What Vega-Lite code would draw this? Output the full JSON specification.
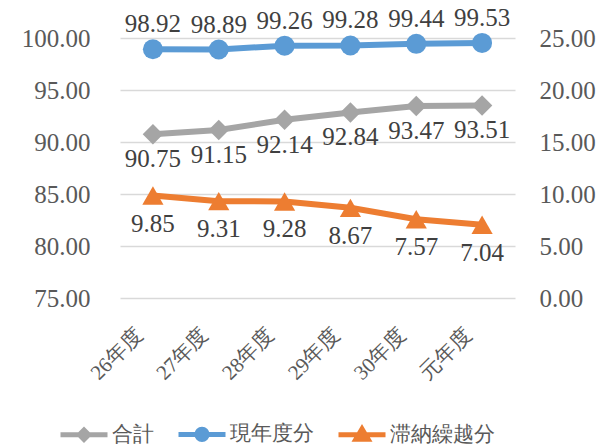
{
  "$schema": "https://vega.github.io/schema/vega-lite/v6.json",
  "width": 395,
  "height": 260,
  "autosize": "none",
  "padding": {"left": 120, "top": 38, "right": 86, "bottom": 148},
  "config": {
    "font": "Liberation Serif",
    "view": {"stroke": null},
    "text": {"font": "Liberation Serif"},
    "axis": {"labelFont": "Liberation Serif", "labelColor": "#595959", "title": null},
    "legend": {"labelFont": "Liberation Serif"}
  },
  "data": {
    "values": [
      {"year": "26年度", "series": "合計", "value": 90.75},
      {"year": "27年度", "series": "合計", "value": 91.15},
      {"year": "28年度", "series": "合計", "value": 92.14},
      {"year": "29年度", "series": "合計", "value": 92.84},
      {"year": "30年度", "series": "合計", "value": 93.47},
      {"year": "元年度", "series": "合計", "value": 93.51},
      {"year": "26年度", "series": "現年度分", "value": 98.92},
      {"year": "27年度", "series": "現年度分", "value": 98.89},
      {"year": "28年度", "series": "現年度分", "value": 99.26},
      {"year": "29年度", "series": "現年度分", "value": 99.28},
      {"year": "30年度", "series": "現年度分", "value": 99.44},
      {"year": "元年度", "series": "現年度分", "value": 99.53},
      {"year": "26年度", "series": "滞納繰越分", "value": 9.85},
      {"year": "27年度", "series": "滞納繰越分", "value": 9.31},
      {"year": "28年度", "series": "滞納繰越分", "value": 9.28},
      {"year": "29年度", "series": "滞納繰越分", "value": 8.67},
      {"year": "30年度", "series": "滞納繰越分", "value": 7.57},
      {"year": "元年度", "series": "滞納繰越分", "value": 7.04}
    ]
  },
  "encoding": {
    "x": {
      "field": "year", "type": "ordinal",
      "sort": ["26年度", "27年度", "28年度", "29年度", "30年度", "元年度"],
      "axis": {"labelAngle": -45, "labelFontSize": 21, "labelPadding": 26, "labelOffset": -22, "domain": false, "ticks": false, "grid": false}
    },
    "color": {
      "field": "series", "type": "nominal",
      "scale": {"domain": ["合計", "現年度分", "滞納繰越分"], "range": ["#A5A5A5", "#5B9BD5", "#ED7D31"]},
      "legend": {
        "title": null, "orient": "none", "legendX": -62, "legendY": 370, "direction": "horizontal",
        "symbolSize": 2209, "symbolStrokeWidth": 5, "labelFontSize": 21, "labelColor": "#595959",
        "labelOffset": 2, "columnPadding": 14,
        "encode": {
          "symbols": {
            "update": {
              "shape": {"signal": "datum.value === '合計' ? 'M-1,0L1,0M-0.2,0L0,-0.2L0.2,0L0,0.2Z' : datum.value === '現年度分' ? 'M-1,0L1,0M0.22,0A0.22,0.22 0 1,1 -0.22,0A0.22,0.22 0 1,1 0.22,0Z' : 'M-1,0L1,0M-0.26,0.2L0,-0.24L0.26,0.2Z'"},
              "fill": {"signal": "datum.value === '合計' ? '#A5A5A5' : datum.value === '現年度分' ? '#5B9BD5' : '#ED7D31'"},
              "stroke": {"signal": "datum.value === '合計' ? '#A5A5A5' : datum.value === '現年度分' ? '#5B9BD5' : '#ED7D31'"},
              "strokeWidth": {"value": 5},
              "opacity": {"value": 1}
            }
          }
        }
      }
    }
  },
  "layer": [
    {
      "transform": [{"filter": "datum.series !== '滞納繰越分'"}],
      "encoding": {
        "y": {
          "field": "value", "type": "quantitative",
          "scale": {"domain": [75, 100], "nice": false, "zero": false},
          "axis": {"values": [75, 80, 85, 90, 95, 100], "format": ".2f", "orient": "left", "labelFontSize": 25, "labelPadding": 30, "domain": false, "ticks": false, "grid": true, "gridColor": "#D9D9D9", "gridWidth": 1.5}
        }
      },
      "layer": [
        {"mark": {"type": "line", "strokeWidth": 6}},
        {"transform": [{"filter": "datum.series === '合計'"}], "mark": {"type": "point", "shape": "diamond", "filled": true, "size": 420, "opacity": 1}},
        {"transform": [{"filter": "datum.series === '現年度分'"}], "mark": {"type": "point", "shape": "circle", "filled": true, "size": 400, "opacity": 1}},
        {"transform": [{"filter": "datum.series === '合計'"}], "mark": {"type": "text", "dy": 25, "fontSize": 25, "font": "Liberation Serif", "baseline": "middle"}, "encoding": {"text": {"field": "value", "format": ".2f"}, "color": {"value": "#404040"}}},
        {"transform": [{"filter": "datum.series === '現年度分'"}], "mark": {"type": "text", "dy": -25, "fontSize": 25, "font": "Liberation Serif", "baseline": "middle"}, "encoding": {"text": {"field": "value", "format": ".2f"}, "color": {"value": "#404040"}}}
      ]
    },
    {
      "transform": [{"filter": "datum.series === '滞納繰越分'"}],
      "encoding": {
        "y": {
          "field": "value", "type": "quantitative",
          "scale": {"domain": [0, 25], "nice": false},
          "axis": {"values": [0, 5, 10, 15, 20, 25], "format": ".2f", "orient": "right", "labelFontSize": 25, "labelPadding": 24, "domain": false, "ticks": false, "grid": false}
        }
      },
      "layer": [
        {"mark": {"type": "line", "strokeWidth": 6}},
        {"mark": {"type": "point", "shape": "triangle-up", "filled": true, "size": 450, "opacity": 1}},
        {"mark": {"type": "text", "dy": 28, "fontSize": 25, "font": "Liberation Serif", "baseline": "middle"}, "encoding": {"text": {"field": "value", "format": ".2f"}, "color": {"value": "#404040"}}}
      ]
    }
  ],
  "resolve": {"scale": {"y": "independent"}}
}
